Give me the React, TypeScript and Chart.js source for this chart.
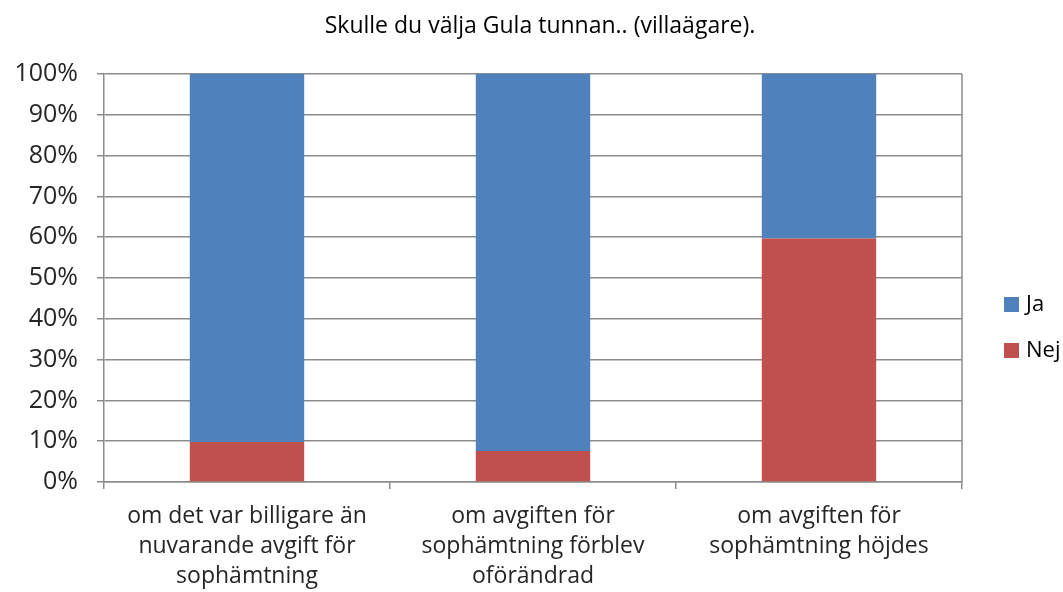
import React, { useEffect, useRef } from "react";
import { Chart, registerables } from "chart.js";

Chart.register(...registerables);

const titleText = "Skulle du välja Gula tunnan.. (villaägare).";
const categories: string[][] = [
  ["om det var billigare än", "nuvarande avgift för", "sophämtning"],
  ["om avgiften för", "sophämtning förblev", "oförändrad"],
  ["om avgiften för", "sophämtning höjdes"],
];
const seriesNames = ["Nej", "Ja"];
const nejValues = [9.8, 7.6, 59.7];
const jaValues = [90.2, 92.4, 40.3];
const seriesColors = ["#C0504D", "#4F81BD"];
const yTicks = [0, 10, 20, 30, 40, 50, 60, 70, 80, 90, 100];

const GRID = "#8c8c8c";
const TEXT = "#262626";

const decorPlugin = {
  id: "decor",
  afterDraw(chart: any) {
    const { ctx, chartArea } = chart;
    ctx.save();
    // right border of plot area
    ctx.strokeStyle = GRID;
    ctx.lineWidth = 1.5;
    ctx.beginPath();
    ctx.moveTo(chartArea.right, chartArea.top);
    ctx.lineTo(chartArea.right, chartArea.bottom);
    ctx.stroke();
    // title
    ctx.fillStyle = "#000";
    ctx.font = "23px 'Open Sans'";
    ctx.textAlign = "center";
    ctx.textBaseline = "alphabetic";
    ctx.fillText(titleText, 540, 33);
    // legend
    const ds = chart.data.datasets.slice().reverse();
    const x = chartArea.right + 42;
    const startY = 304;
    const step = 46;
    ctx.font = "22px 'Open Sans'";
    ctx.textAlign = "left";
    ctx.textBaseline = "middle";
    ds.forEach((d: any, i: number) => {
      const cy = startY + i * step;
      ctx.fillStyle = d.backgroundColor;
      ctx.fillRect(x, cy - 7, 15, 15);
      ctx.fillStyle = "#000";
      ctx.fillText(d.label, x + 22, cy + 1);
    });
    ctx.restore();
  },
};

export default function App() {
  const ref = useRef<HTMLCanvasElement | null>(null);
  useEffect(() => {
    document.body.style.margin = "0";
    const chart = new Chart(ref.current!, {
      type: "bar",
      data: {
        labels: categories,
        datasets: [
          { label: seriesNames[0], data: nejValues, backgroundColor: seriesColors[0], barPercentage: 0.8, categoryPercentage: 0.5 },
          { label: seriesNames[1], data: jaValues, backgroundColor: seriesColors[1], barPercentage: 0.8, categoryPercentage: 0.5 },
        ],
      },
      options: {
        animation: false,
        responsive: false,
        maintainAspectRatio: false,
        layout: { padding: { left: 0, right: 101, top: 74, bottom: 0 } },
        plugins: {
          legend: { display: false },
          tooltip: { enabled: false },
          title: { display: false },
        },
        scales: {
          x: {
            stacked: true,
            grid: { offset: true, drawOnChartArea: false, drawTicks: true, tickLength: 7, color: GRID, lineWidth: 1.5 },
            border: { display: true, color: GRID, width: 1.5 },
            ticks: {
              color: TEXT,
              font: { family: "'Open Sans'", size: 23, lineHeight: 1.3 },
              padding: 13,
              maxRotation: 0,
              autoSkip: false,
            },
            afterFit: (s: any) => { s.height = 110; },
          },
          y: {
            stacked: true,
            min: 0,
            max: 100,
            afterBuildTicks: (s: any) => { s.ticks = yTicks.map((v) => ({ value: v })); },
            grid: { color: GRID, lineWidth: 1.5, tickLength: 7, drawTicks: true },
            border: { display: true, color: GRID, width: 1.5 },
            ticks: {
              color: TEXT,
              font: { family: "'Open Sans'", size: 25 },
              padding: 19,
              callback: (v: any) => v + "%",
            },
            afterFit: (s: any) => { s.width = 104; },
          },
        },
      },
      plugins: [decorPlugin],
    });
    return () => chart.destroy();
  }, []);
  return (
    <div style={{ position: "absolute", left: 0, top: 0, width: 1063, height: 592 }}>
      <canvas ref={ref} width={1063} height={592} style={{ width: 1063, height: 592 }} />
    </div>
  );
}
